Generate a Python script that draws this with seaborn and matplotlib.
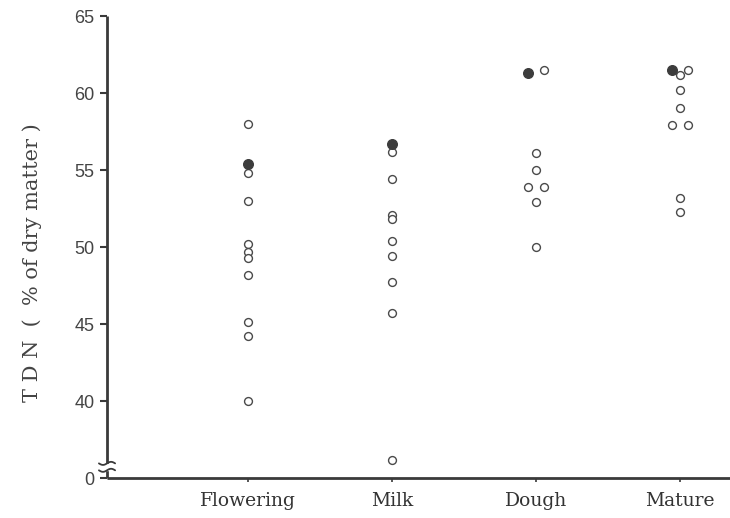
import numpy as np
import pandas as pd
import matplotlib
matplotlib.use("Agg")
import matplotlib.pyplot as plt
import matplotlib.transforms as mtransforms
import seaborn as sns

# TDN (% of dry matter); values below the break sit on the 0..40 stretch
stages = ['Flowering', 'Milk', 'Dough', 'Mature']

flowering_tdn = [58.0, 55.4, 54.8, 53.0, 50.2, 49.7, 49.3, 48.2, 45.1, 44.2, 40.0]
flowering_filled = [0, 1, 0, 0, 0, 0, 0, 0, 0, 0, 0]
flowering_side = [0, 0, 0, 0, 0, 0, 0, 0, 0, 0, 0]

milk_tdn = [56.7, 56.2, 54.4, 52.1, 51.8, 50.4, 49.4, 47.7, 45.7, 36.2]
milk_filled = [1, 0, 0, 0, 0, 0, 0, 0, 0, 0]
milk_side = [0, 0, 0, 0, 0, 0, 0, 0, 0, 0]

dough_tdn = [61.3, 61.5, 56.1, 55.0, 53.9, 53.9, 52.9, 50.0]
dough_filled = [1, 0, 0, 0, 0, 0, 0, 0]
dough_side = [-1, 1, 0, 0, -1, 1, 0, 0]

mature_tdn = [61.5, 61.5, 61.2, 60.2, 59.0, 57.9, 57.9, 53.2, 52.3]
mature_filled = [1, 0, 0, 0, 0, 0, 0, 0, 0]
mature_side = [-1, 1, 0, 0, 0, -1, 1, 0, 0]

ytick_pos = [35, 40, 45, 50, 55, 60, 65]
ytick_labels = ['0', '40', '45', '50', '55', '60', '65']

rows = []
for i, (vals, filled, side) in enumerate([(flowering_tdn, flowering_filled, flowering_side),
                                          (milk_tdn, milk_filled, milk_side),
                                          (dough_tdn, dough_filled, dough_side),
                                          (mature_tdn, mature_filled, mature_side)]):
    for v, f, s in zip(vals, filled, side):
        rows.append({'stage': stages[i], 'x': i + s * 0.054, 'tdn': v, 'filled': f})
df = pd.DataFrame(rows)

sns.set_style("ticks")
fig = plt.figure(figsize=(7.3, 5.18), dpi=100)
ax = fig.add_axes([0.1466, 0.0772, 0.8534, 0.8919])

ink = '#3a3a3a'
sns.scatterplot(data=df[df['filled'] == 0], x='x', y='tdn', ax=ax, marker='o',
                facecolor='white', edgecolor='#4a4a4a', linewidth=1.0, s=32, zorder=3)
sns.scatterplot(data=df[df['filled'] == 1], x='x', y='tdn', ax=ax, marker='o',
                color='#3c3c3c', edgecolor='#3c3c3c', linewidth=1.0, s=48, zorder=4)

ax.set_xlim(-0.979, 3.347)
ax.set_ylim(35, 65)
ax.set_yticks(ytick_pos)
ax.set_yticklabels(ytick_labels, fontfamily='Liberation Sans', fontsize=13, color='#444444')
ax.set_xticks(range(len(stages)))
ax.set_xticklabels(stages, fontfamily='DejaVu Serif', fontsize=13.5, color='#333333')
ax.tick_params(axis='y', direction='out', length=5, width=1.5, color=ink, pad=4)
ax.tick_params(axis='x', direction='out', length=3, width=1.2, color=ink, pad=7)
ax.set_xlabel('')
ax.set_ylabel('T D N  (  % of dry matter )', fontfamily='DejaVu Serif', fontsize=15,
              color='#444444')
ax.yaxis.set_label_coords(-0.105, 0.467)

sns.despine(ax=ax, top=True, right=True)
for side in ['left', 'bottom']:
    ax.spines[side].set_linewidth(2.0)
    ax.spines[side].set_color(ink)
    ax.spines[side].set_capstyle('butt')

# axis break mark on the y axis
trans = mtransforms.blended_transform_factory(ax.transAxes, ax.transData)
ax.fill_between([-0.012, 0.012], 35.55, 35.9, color='white', transform=trans,
                clip_on=False, zorder=5)
t = np.linspace(-1, 1, 30)
for yb in (35.5, 35.95):
    ax.plot(t * 0.013, yb + 0.1 * np.sin(t * np.pi), transform=trans, color=ink,
            lw=1.3, clip_on=False, zorder=6)

fig.savefig('out.png', dpi=100)
